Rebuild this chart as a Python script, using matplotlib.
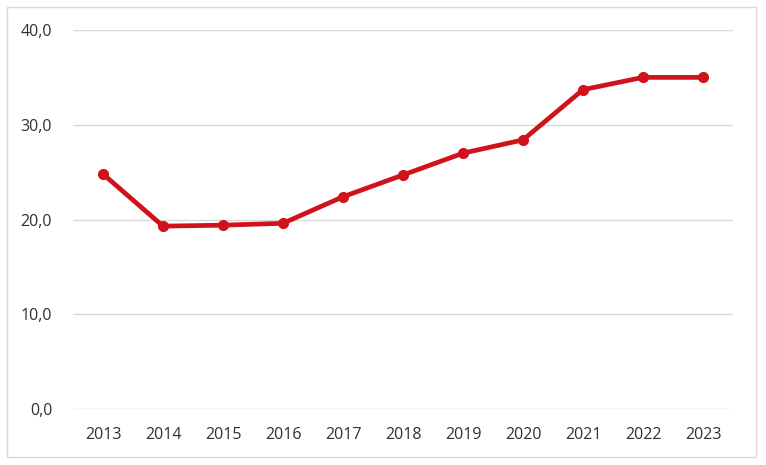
import numpy as np
import matplotlib.pyplot as plt
from matplotlib.patches import Rectangle

# Datos
anios = ['2013', '2014', '2015', '2016', '2017', '2018', '2019', '2020', '2021', '2022', '2023']
valores = [24.8, 19.3, 19.4, 19.6, 22.4, 24.7, 27.0, 28.4, 33.7, 35.0, 35.0]
ticks_y = [0, 10, 20, 30, 40]

rojo = '#d0121b'
gris_grid = '#d9d9d9'
gris_texto = '#303030'

fig = plt.figure(figsize=(7.66, 4.65), dpi=100)
ax = fig.add_axes([73 / 766, 1 - 409 / 465, 660 / 766, 379 / 465])

x = np.arange(len(anios))
ax.plot(x, valores, color=rojo, linewidth=3.4, marker='o', markersize=7,
        solid_capstyle='round', zorder=3)

ax.set_xlim(-0.5, len(anios) - 0.5)
ax.set_ylim(0, 40)
ax.set_yticks(ticks_y)
ax.set_yticklabels([f'{v:.1f}'.replace('.', ',') for v in ticks_y])
ax.set_xticks(x)
ax.set_xticklabels(anios)

ax.grid(axis='y', color=gris_grid, linewidth=1)
ax.set_axisbelow(True)
for s in ax.spines.values():
    s.set_visible(False)
ax.tick_params(length=0, labelsize=11.5, labelcolor=gris_texto, labelfontfamily='Open Sans')
ax.tick_params(axis='y', pad=15)
ax.tick_params(axis='x', pad=13)

# Borde exterior del gráfico
fig.patches.append(Rectangle((7 / 766, 1 - 457 / 465), 749 / 766, 450 / 465,
                             transform=fig.transFigure, fill=False,
                             edgecolor=gris_grid, linewidth=1))

fig.savefig('out.png', dpi=100)
